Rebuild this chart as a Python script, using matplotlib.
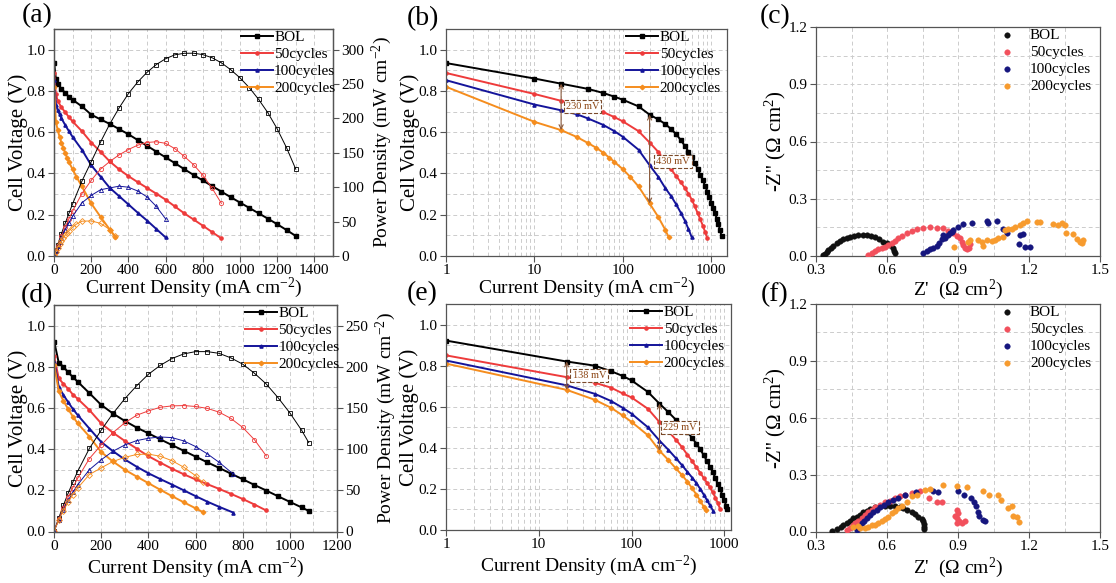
import numpy as np
import matplotlib
matplotlib.use("Agg")
import matplotlib.pyplot as plt
from matplotlib.ticker import MultipleLocator, LogLocator, NullFormatter

plt.rcParams['font.family'] = ['Liberation Serif', 'DejaVu Serif']
plt.rcParams['mathtext.fontset'] = 'custom'
plt.rcParams['mathtext.rm'] = 'Liberation Serif'
plt.rcParams['mathtext.it'] = 'Liberation Serif:italic'

# ---------------- data: sample 1 (a, b) ----------------
labels = ["BOL", "50cycles", "100cycles", "200cycles"]

i_bol1 = [1, 10, 20, 40, 60, 80, 100, 150, 200, 250, 300, 350, 400, 450, 500, 550, 600, 650,
          700, 750, 800, 850, 900, 950, 1000, 1050, 1100, 1150, 1200, 1250, 1300]
v_bol1 = [0.935, 0.86, 0.835, 0.81, 0.79, 0.772, 0.757, 0.725, 0.685, 0.662, 0.64, 0.615, 0.59,
          0.562, 0.534, 0.506, 0.478, 0.45, 0.421, 0.393, 0.366, 0.339, 0.312, 0.285, 0.259,
          0.233, 0.207, 0.181, 0.154, 0.126, 0.097]
p_bol1 = [0.9, 8.6, 16.7, 32.4, 47.4, 61.8, 75.7, 108.8, 137.0, 165.5, 192.0, 215.3, 236.0,
          252.9, 267.0, 278.3, 286.8, 292.5, 294.7, 294.8, 292.8, 288.2, 280.8, 270.8, 259.0,
          244.7, 227.7, 208.2, 184.8, 157.5, 126.1]

i_50c1 = [1, 10, 20, 40, 60, 80, 100, 150, 200, 250, 300, 350, 400, 450, 500, 550, 600, 650,
          700, 750, 800, 850, 900]
v_50c1 = [0.887, 0.785, 0.752, 0.72, 0.697, 0.673, 0.652, 0.605, 0.55, 0.505, 0.458, 0.42,
          0.387, 0.358, 0.33, 0.302, 0.273, 0.24, 0.207, 0.177, 0.147, 0.116, 0.085]
p_50c1 = [0.9, 7.9, 15.0, 28.8, 41.8, 53.8, 65.2, 90.8, 110.0, 126.3, 137.4, 147.0, 154.8,
          161.1, 165.0, 166.1, 163.8, 156.0, 144.9, 132.8, 117.6, 98.6, 76.5]

i_100c1 = [1, 10, 20, 30, 40, 60, 80, 100, 150, 200, 250, 300, 350, 400, 450, 500, 550, 600]
v_100c1 = [0.852, 0.734, 0.706, 0.687, 0.667, 0.635, 0.605, 0.577, 0.515, 0.44, 0.385, 0.33,
           0.29, 0.25, 0.21, 0.172, 0.131, 0.09]
p_100c1 = [0.85, 7.3, 14.1, 20.6, 26.7, 38.1, 48.4, 57.7, 77.3, 88.0, 96.3, 99.0, 101.5,
           100.0, 94.5, 86.0, 72.1, 54.0]

i_200c1 = [1, 10, 20, 30, 40, 50, 60, 70, 80, 100, 120, 150, 200, 250, 300, 330]
v_200c1 = [0.82, 0.65, 0.61, 0.577, 0.548, 0.524, 0.5, 0.477, 0.456, 0.42, 0.385, 0.337,
           0.255, 0.19, 0.128, 0.09]
p_200c1 = [0.8, 6.5, 12.2, 17.3, 21.9, 26.2, 30.0, 33.4, 36.5, 42.0, 46.2, 50.6, 51.0, 47.5,
           38.4, 29.7]

# ---------------- data: sample 2 (d, e) ----------------
i_bol2 = [1, 20, 40, 60, 80, 100, 150, 200, 250, 300, 350, 400, 450, 500, 550, 600, 650, 700,
          750, 800, 850, 900, 950, 1000, 1050, 1080]
v_bol2 = [0.922, 0.82, 0.80, 0.773, 0.75, 0.728, 0.672, 0.615, 0.573, 0.537, 0.505, 0.477,
          0.448, 0.42, 0.392, 0.364, 0.336, 0.309, 0.281, 0.254, 0.226, 0.199, 0.171, 0.144,
          0.117, 0.1]
p_bol2 = [0.9, 16.4, 32.0, 46.4, 60.0, 72.8, 100.8, 123.0, 143.3, 161.1, 176.8, 190.8, 201.6,
          210.0, 215.6, 218.4, 218.4, 216.3, 210.8, 203.2, 192.1, 179.1, 162.5, 144.0, 122.9,
          108.0]

i_50c2 = [1, 20, 40, 60, 80, 100, 150, 200, 250, 300, 350, 400, 450, 500, 550, 600, 650, 700,
          750, 800, 850, 900]
v_50c2 = [0.85, 0.744, 0.717, 0.693, 0.665, 0.645, 0.59, 0.525, 0.48, 0.44, 0.403, 0.366,
          0.335, 0.305, 0.278, 0.253, 0.23, 0.207, 0.183, 0.158, 0.131, 0.102]
p_50c2 = [0.85, 14.9, 28.7, 41.6, 53.2, 64.5, 88.5, 105.0, 120.0, 132.0, 141.1, 146.4, 150.8,
          152.5, 152.9, 151.8, 149.5, 144.9, 137.3, 126.4, 111.4, 91.8]

i_100c2 = [1, 20, 40, 60, 80, 100, 150, 200, 250, 300, 350, 400, 450, 500, 550, 600, 650, 700,
           760]
v_100c2 = [0.825, 0.704, 0.663, 0.628, 0.595, 0.566, 0.50, 0.435, 0.39, 0.35, 0.315, 0.283,
           0.255, 0.228, 0.2, 0.172, 0.145, 0.12, 0.092]
p_100c2 = [0.8, 14.1, 26.5, 37.7, 47.6, 56.6, 75.0, 87.0, 97.5, 105.0, 110.3, 113.2, 114.8,
           114.0, 110.0, 103.2, 94.3, 84.0, 69.9]

i_200c2 = [1, 20, 40, 60, 80, 100, 150, 200, 250, 300, 350, 400, 450, 500, 550, 600, 630]
v_200c2 = [0.81, 0.682, 0.634, 0.595, 0.558, 0.526, 0.461, 0.386, 0.34, 0.3, 0.267, 0.235,
           0.203, 0.172, 0.142, 0.113, 0.095]
p_200c2 = [0.8, 13.6, 25.4, 35.7, 44.6, 52.6, 69.2, 77.2, 85.0, 90.0, 93.5, 94.0, 91.4, 86.0,
           78.1, 67.8, 59.9]

# voltage-loss annotations: (current, text)
loss_1 = [(20, "230 mV"), (200, "430 mV")]
loss_2 = [(20, "138 mV"), (200, "229 mV")]

# ---------------- data: EIS (c) ----------------
c_bol_x = [0.331, 0.338, 0.345, 0.352, 0.362, 0.373, 0.387, 0.401, 0.415, 0.430, 0.444, 0.461,
           0.479, 0.497, 0.514, 0.531, 0.549, 0.568, 0.585, 0.601, 0.613, 0.624, 0.630, 0.634]
c_bol_y = [0.005, 0.012, 0.023, 0.030, 0.040, 0.052, 0.066, 0.079, 0.087, 0.094, 0.101, 0.106,
           0.110, 0.110, 0.108, 0.105, 0.098, 0.087, 0.075, 0.066, 0.058, 0.040, 0.026, 0.017]
c_50_x = [0.521, 0.535, 0.549, 0.563, 0.577, 0.592, 0.606, 0.620, 0.634, 0.648, 0.662, 0.683,
          0.704, 0.725, 0.754, 0.782, 0.810, 0.838, 0.859, 0.880, 0.894, 0.908, 0.915, 0.923,
          0.930, 0.937, 0.945, 0.951, 0.945]
c_50_y = [0.005, 0.017, 0.028, 0.035, 0.040, 0.049, 0.058, 0.070, 0.080, 0.092, 0.105, 0.119,
          0.131, 0.140, 0.148, 0.150, 0.145, 0.145, 0.133, 0.119, 0.106, 0.092, 0.075, 0.058,
          0.044, 0.035, 0.044, 0.063, 0.075]
c_100_x = [0.751, 0.768, 0.782, 0.793, 0.810, 0.821, 0.831, 0.838, 0.845, 0.859, 0.866, 0.873,
           0.880, 0.901, 0.923, 0.958, 1.021, 1.028, 1.063, 1.092, 1.106, 1.159, 1.162, 1.176,
           1.183, 1.204]
c_100_y = [0.014, 0.028, 0.035, 0.044, 0.052, 0.066, 0.087, 0.110, 0.092, 0.110, 0.119, 0.127,
           0.136, 0.154, 0.166, 0.175, 0.183, 0.175, 0.183, 0.140, 0.122, 0.061, 0.110, 0.115,
           0.049, 0.045]
c_200_x = [0.883, 0.944, 0.951, 0.986, 1.000, 1.007, 1.021, 1.042, 1.056, 1.070, 1.089, 1.099,
           1.113, 1.127, 1.141, 1.162, 1.176, 1.193, 1.232, 1.246, 1.303, 1.324, 1.338, 1.352,
           1.356, 1.387, 1.401, 1.415, 1.423, 1.427]
c_200_y = [0.049, 0.075, 0.084, 0.084, 0.075, 0.052, 0.084, 0.079, 0.084, 0.092, 0.101, 0.136,
           0.140, 0.140, 0.154, 0.162, 0.171, 0.185, 0.176, 0.176, 0.168, 0.162, 0.171, 0.162,
           0.122, 0.113, 0.087, 0.075, 0.066, 0.084]

# ---------------- data: EIS (f) ----------------
f_bol_x = [0.366, 0.387, 0.404, 0.415, 0.430, 0.444, 0.458, 0.472, 0.486, 0.500, 0.514, 0.528,
           0.549, 0.570, 0.592, 0.613, 0.634, 0.655, 0.669, 0.686, 0.704, 0.718, 0.732, 0.746,
           0.754, 0.756, 0.758, 0.756]
f_bol_y = [0.004, 0.014, 0.026, 0.035, 0.047, 0.058, 0.070, 0.079, 0.088, 0.102, 0.109, 0.118,
           0.127, 0.132, 0.137, 0.132, 0.132, 0.127, 0.123, 0.114, 0.102, 0.091, 0.079, 0.067,
           0.053, 0.039, 0.026, 0.014]
f_50_x = [0.430, 0.444, 0.455, 0.465, 0.479, 0.493, 0.507, 0.521, 0.535, 0.549, 0.570, 0.592,
          0.613, 0.634, 0.655, 0.676, 0.704, 0.739, 0.779, 0.810, 0.831, 0.894, 0.899, 0.887,
          0.894, 0.904, 0.915, 0.930, 0.894]
f_50_y = [0.009, 0.021, 0.032, 0.044, 0.056, 0.070, 0.088, 0.102, 0.114, 0.127, 0.141, 0.153,
          0.162, 0.176, 0.185, 0.193, 0.202, 0.214, 0.179, 0.158, 0.158, 0.114, 0.097, 0.083,
          0.070, 0.056, 0.044, 0.053, 0.044]
f_100_x = [0.472, 0.483, 0.493, 0.503, 0.514, 0.528, 0.542, 0.556, 0.570, 0.587, 0.606, 0.627,
           0.648, 0.676, 0.723, 0.796, 0.817, 0.901, 0.925, 0.954, 0.968, 0.975, 0.986, 0.990,
           1.007, 1.014]
f_100_y = [0.009, 0.026, 0.044, 0.056, 0.070, 0.088, 0.102, 0.114, 0.127, 0.141, 0.153, 0.167,
           0.179, 0.193, 0.207, 0.211, 0.207, 0.216, 0.193, 0.176, 0.153, 0.132, 0.102, 0.084,
           0.062, 0.053]
f_200_x = [0.458, 0.479, 0.486, 0.507, 0.521, 0.535, 0.549, 0.563, 0.577, 0.592, 0.606, 0.620,
           0.634, 0.648, 0.662, 0.683, 0.704, 0.725, 0.761, 0.782, 0.838, 0.894, 0.937, 1.004,
           1.032, 1.070, 1.080, 1.113, 1.127, 1.134, 1.148, 1.159]
f_200_y = [0.026, 0.030, 0.021, 0.021, 0.026, 0.032, 0.035, 0.044, 0.053, 0.067, 0.079, 0.097,
           0.109, 0.123, 0.132, 0.158, 0.185, 0.193, 0.220, 0.223, 0.246, 0.241, 0.237, 0.214,
           0.193, 0.193, 0.167, 0.123, 0.132, 0.084, 0.079, 0.049]

# ---------------- styles ----------------
pol_colors = ["#000000", "#ee3b3b", "#14149a", "#f58d1e"]
pol_markers = ["s", "o", "^", "D"]
eis_colors = ["#111111", "#f2505c", "#16167e", "#f79b2e"]
ann_color = "#8b5a3c"
frame_color = "#555555"
XLAB = "Current Density (mA cm$^{-2}$)"
YLAB = "Cell Voltage (V)"
PLAB = "Power Density (mW cm$^{-2}$)"
ZX = "Z'  (Ω cm$^2$)"
ZY = "-Z'' (Ω cm$^2$)"

sample1 = [(i_bol1, v_bol1, p_bol1), (i_50c1, v_50c1, p_50c1),
           (i_100c1, v_100c1, p_100c1), (i_200c1, v_200c1, p_200c1)]
sample2 = [(i_bol2, v_bol2, p_bol2), (i_50c2, v_50c2, p_50c2),
           (i_100c2, v_100c2, p_100c2), (i_200c2, v_200c2, p_200c2)]
eis_c = [(c_bol_x, c_bol_y), (c_50_x, c_50_y), (c_100_x, c_100_y), (c_200_x, c_200_y)]
eis_f = [(f_bol_x, f_bol_y), (f_50_x, f_50_y), (f_100_x, f_100_y), (f_200_x, f_200_y)]

W, H = 1116, 583


def box(l, r, t, b):
    return [l / W, 1 - b / H, (r - l) / W, (b - t) / H]


def style(ax, grid=True):
    if grid:
        ax.grid(True, which='both', ls=(0, (4, 3)), color='#cccccc', lw=0.7)
    ax.set_axisbelow(True)
    ax.tick_params(which='major', direction='out', length=4, width=0.8,
                   color=frame_color, labelsize=11, pad=2)
    ax.tick_params(which='minor', length=0)
    for s in ax.spines.values():
        s.set_color(frame_color)
        s.set_linewidth(0.9)


def pol_linear(ax, data, xmax, pmax, xlab_y):
    style(ax)
    ax2 = ax.twinx()
    handles = []
    for (i, v, p), c, m, lab in zip(data, pol_colors, pol_markers, labels):
        h, = ax.plot(i, v, color=c, marker=m, ms=2.3, lw=1.4, label=lab)
        handles.append(h)
        ax2.plot(i, p, color=c, marker=m, ms=3.0, mfc='none', mew=0.6, lw=0.7)
    ax.set_xlim(0, xmax)
    ax.set_ylim(0, 1.1)
    ax2.set_ylim(0, pmax)
    ax.xaxis.set_major_locator(MultipleLocator(200))
    ax.xaxis.set_minor_locator(MultipleLocator(100))
    ax.yaxis.set_major_locator(MultipleLocator(0.2))
    ax.yaxis.set_minor_locator(MultipleLocator(0.1))
    ax.yaxis.set_major_formatter(plt.FuncFormatter(lambda x, _: f"{x:.1f}"))
    ax2.yaxis.set_major_locator(MultipleLocator(50))
    style(ax2, grid=False)
    ax.set_xlabel(XLAB, fontsize=14)
    ax.set_ylabel(YLAB, fontsize=15)
    ax2.set_ylabel(PLAB, fontsize=14)
    ax.xaxis.set_label_coords(0.5, xlab_y)
    ax.yaxis.set_label_coords(-0.093, 0.5)
    ax2.yaxis.set_label_coords(1.13, 0.5)
    ax2.legend(handles, labels, loc='upper right', bbox_to_anchor=(1.03, 1.02),
               frameon=False, fontsize=11, handlelength=2.1, handletextpad=0.1,
               labelspacing=0.22, borderaxespad=0.0)


def pol_log(ax, data, xmax, losses, xlab_y, boxes):
    style(ax)
    for (i, v, p), c, m, lab in zip(data, pol_colors, pol_markers, labels):
        ax.plot(i, v, color=c, marker=m, ms=2.3, lw=1.4, label=lab)
    ax.set_xscale('log')
    ax.set_xlim(1, xmax)
    ax.set_ylim(0, 1.1)
    ax.set_xticks([1, 10, 100, 1000])
    ax.set_xticklabels(['1', '10', '100', '1000'])
    ax.xaxis.set_minor_locator(LogLocator(base=10, subs=np.arange(2, 10)))
    ax.xaxis.set_minor_formatter(NullFormatter())
    ax.yaxis.set_major_locator(MultipleLocator(0.2))
    ax.yaxis.set_minor_locator(MultipleLocator(0.1))
    ax.yaxis.set_major_formatter(plt.FuncFormatter(lambda x, _: f"{x:.1f}"))
    ax.set_xlabel(XLAB, fontsize=14)
    ax.set_ylabel(YLAB, fontsize=15)
    ax.xaxis.set_label_coords(0.5, xlab_y)
    ax.yaxis.set_label_coords(-0.094, 0.5)
    ax.legend(loc='upper right', bbox_to_anchor=(1.0, 1.02), frameon=False, fontsize=11,
              handlelength=2.1, handletextpad=0.1, labelspacing=0.22, borderaxespad=0.0)
    top, bottom = data[0], data[3]
    for (cur, txt), (bx, by) in zip(losses, boxes):
        vt = top[1][top[0].index(cur)]
        vb = bottom[1][bottom[0].index(cur)]
        ax.annotate('', xy=(cur, vb), xytext=(cur, vt),
                    arrowprops=dict(arrowstyle='<->,head_length=0.3,head_width=0.15',
                                    color=ann_color, lw=0.8, shrinkA=0, shrinkB=0))
        ax.text(bx, by, txt, ha='center', va='center', fontsize=7.5, color='#8b4513',
                bbox=dict(boxstyle='square,pad=0.2', fc='white', ec='#7a4a2a',
                          ls='--', lw=0.8), zorder=5)


def eis(ax, data, xlab_y):
    style(ax)
    for (x, y), c, lab in zip(data, eis_colors, labels):
        ax.scatter(x, y, s=16, color=c, edgecolors=c, linewidths=0.3, label=lab, zorder=3)
    ax.set_xlim(0.3, 1.5)
    ax.set_ylim(0, 1.2)
    ax.xaxis.set_major_locator(MultipleLocator(0.3))
    ax.xaxis.set_minor_locator(MultipleLocator(0.15))
    ax.yaxis.set_major_locator(MultipleLocator(0.3))
    ax.yaxis.set_minor_locator(MultipleLocator(0.15))
    ax.xaxis.set_major_formatter(plt.FuncFormatter(lambda x, _: f"{x:.1f}"))
    ax.yaxis.set_major_formatter(plt.FuncFormatter(lambda x, _: f"{x:.1f}"))
    ax.set_xlabel(ZX, fontsize=14)
    ax.set_ylabel(ZY, fontsize=15)
    ax.xaxis.set_label_coords(0.5, xlab_y)
    ax.yaxis.set_label_coords(-0.097, 0.5)
    ax.legend(loc='upper right', bbox_to_anchor=(0.99, 1.02), frameon=False, fontsize=11,
              handlelength=1.0, handletextpad=1.0, labelspacing=0.22, borderaxespad=0.0)


fig = plt.figure(figsize=(W / 100, H / 100), dpi=100)

ax_a = fig.add_axes(box(54, 333, 29, 256))
ax_b = fig.add_axes(box(446, 727, 29, 256))
ax_c = fig.add_axes(box(816, 1100, 27, 256))
ax_d = fig.add_axes(box(54, 337, 305, 531.5))
ax_e = fig.add_axes(box(446, 731, 304, 530))
ax_f = fig.add_axes(box(816, 1100, 304, 531.5))

pol_linear(ax_a, sample1, 1500, 330, -0.085)
pol_log(ax_b, sample1, 1500, loss_1, -0.085, [(35, 0.723), (366, 0.456)])
eis(ax_c, eis_c, -0.095)
pol_linear(ax_d, sample2, 1200, 275, -0.105)
pol_log(ax_e, sample2, 1180, loss_2, -0.105, [(35, 0.752), (335, 0.50)])
eis(ax_f, eis_f, -0.105)

for txt, x, y in [("(a)", 37, 16), ("(b)", 423, 19), ("(c)", 775, 17),
                  ("(d)", 37, 296), ("(e)", 422, 294), ("(f)", 775, 295)]:
    fig.text(x / W, 1 - y / H, txt, fontsize=20, ha='center', va='center')

fig.savefig("out.png", dpi=100)
